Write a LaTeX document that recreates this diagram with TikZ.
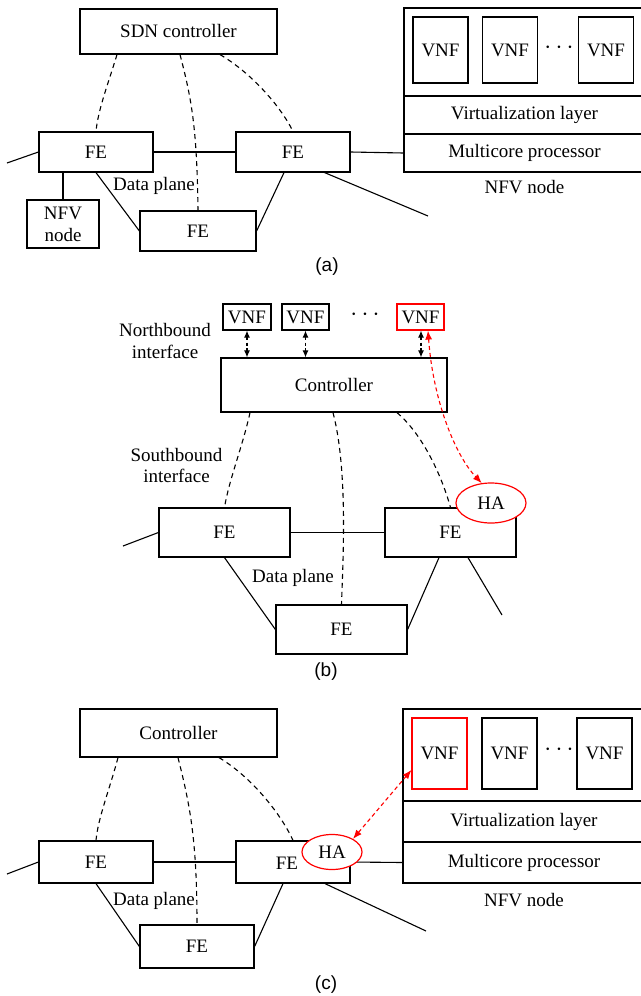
\documentclass[tikz,border=0pt]{standalone}
\usepackage{fontspec}
\setmainfont{Liberation Serif}
\newfontfamily\lblfont{Liberation Sans}
\usetikzlibrary{arrows.meta,shapes.geometric,calc}
\begin{document}
\begin{tikzpicture}[x=1pt,y=-1pt,
  font=\fontsize{19}{22}\selectfont,
  box/.style={draw, line width=1.2pt, inner sep=0pt, rectangle},
  vnfa/.style={box, minimum width=55pt, minimum height=66pt},
  vnfb/.style={box, minimum width=47pt, minimum height=26pt},
  vnfc/.style={box, minimum width=55pt, minimum height=71pt},
  febox/.style={box, minimum width=114pt, minimum height=40pt},
  conn/.style={line width=1.1pt},
  ctl/.style={line width=1.1pt, dash pattern=on 5pt off 4pt},
  varr/.style={line width=1.1pt, dash pattern=on 3pt off 2.5pt, {Latex[length=7pt,width=6pt]}-{Latex[length=7pt,width=6pt]}},
  rarr/.style={red, line width=1.1pt, dash pattern=on 4pt off 3pt, {Latex[length=9pt,width=7pt]}-{Latex[length=9pt,width=7pt]}},
  haell/.style={ellipse, draw=red, fill=white, line width=1.2pt, inner sep=0pt},
  dotstext/.style={font=\fontsize{25}{25}\selectfont},
  captext/.style={font=\lblfont\fontsize{19}{22}\selectfont}]
\useasboundingbox (0,0) rectangle (640,996);

% ================= panel (a) =================
\node[box, minimum width=197pt, minimum height=45pt] (sdnA) at (178.5,31.5) {SDN controller};
\node[box, minimum width=241pt, minimum height=88pt] (topA) at (524.5,52) {};
\node[box, minimum width=241pt, minimum height=38pt] (vlA) at (524.5,115) {Virtualization layer};
\node[box, minimum width=241pt, minimum height=38pt] (mcA) at (524.5,153) {Multicore processor};
\node[vnfa] (v1A) at (440.5,50) {VNF};
\node[vnfa] (v2A) at (510,50) {VNF};
\node[vnfa] (v3A) at (606,50) {VNF};
\node[dotstext] (dotsA) at (559,48) {$\cdots$};
\node (nfvlA) at (524.5,187) {NFV node};
\node[febox] (feLA) at (96,152) {FE};
\node[febox] (feRA) at (293,152) {FE};
\node[box, minimum width=116pt, minimum height=40pt] (feBA) at (198,231) {FE};
\node[box, minimum width=72pt, minimum height=48pt, align=center] (nfvsA) at (63,224) {NFV\\node};
\node (dpA) at (154,186) {Data plane};
\node[captext] (capA) at (327,267) {(a)};

\coordinate (stubLA) at (7,163);
\coordinate (stubRA) at (428,216);
\draw[conn] (stubLA) -- (feLA.west);
\draw[conn] (feLA.east) -- (feRA.west);
\draw[conn] (feRA.east) -- (mcA.west);
\draw[conn] ([xshift=-26pt]feRA.south east) -- (stubRA);
\draw[conn] (feLA.south) -- (feBA.west);
\draw[conn] ([xshift=-9pt]feRA.south) -- (feBA.east);
\draw[conn] (nfvsA.north) -- (nfvsA.north |- feLA.south);
\draw[ctl] ([xshift=-61.5pt]sdnA.south) .. controls (108,84) and (98,110) .. (feLA.north);
\draw[ctl] ([xshift=1.5pt]sdnA.south) .. controls (192,100) and (197,130) .. (feBA.north);
\draw[ctl] ([xshift=41.5pt]sdnA.south) .. controls (250,72) and (280,105) .. (feRA.north);

% ================= panel (b) =================
\node[vnfb, minimum width=48pt] (v1B) at (247,317) {VNF};
\node[vnfb] (v2B) at (305.5,317) {VNF};
\node[vnfb, draw=red] (v3B) at (420.5,317) {VNF};
\node[dotstext] (dotsB) at (365,315) {$\cdots$};
\node[align=center] (nbB) at (165,341) {Northbound\\interface};
\node[box, minimum width=226pt, minimum height=54pt] (ctlB) at (334,385) {Controller};
\node[align=center, font=\fontsize{19}{21}\selectfont] (sbB) at (176.5,465) {Southbound\\interface};
\node[box, minimum width=131pt, minimum height=49pt] (feLB) at (224.5,532.5) {FE};
\node[box, minimum width=131pt, minimum height=49pt] (feRB) at (450.5,532.5) {FE};
\node[box, minimum width=131pt, minimum height=49pt] (feBB) at (341.5,629.5) {FE};
\node (dpB) at (293,578) {Data plane};
\node[captext] (capB) at (326,672) {(b)};

\coordinate (stubLB) at (123,546);
\coordinate (stubRB) at (502,615);
\draw[conn] (stubLB) -- (feLB.west);
\draw[conn] (feLB.east) -- (feRB.west);
\draw[conn] (feLB.south) -- (feBB.west);
\draw[conn] ([xshift=-11.5pt]feRB.south) -- (feBB.east);
\draw[conn] ([xshift=17.5pt]feRB.south) -- (stubRB);
\draw[ctl] ([xshift=-84pt]ctlB.south) .. controls (243,445) and (229,480) .. (feLB.north);
\draw[ctl] ([xshift=-1pt]ctlB.south) .. controls (348,470) and (343,560) .. (feBB.north);
\draw[ctl] ([xshift=63pt]ctlB.south) .. controls (420,432) and (440,470) .. (feRB.north);
\draw[varr] (v1B.south) -- (v1B.south |- ctlB.north);
\draw[varr] (v2B.south) -- (v2B.south |- ctlB.north);
\draw[varr] ([xshift=0.5pt]v3B.south) -- ([xshift=0.5pt]v3B.south |- ctlB.north);
\node[haell, minimum width=70pt, minimum height=40pt] (haB) at (491,503) {HA};
\draw[rarr] ([xshift=7.5pt]v3B.south) .. controls (433,400) and (455,455) .. (haB.115);

% ================= panel (c) =================
\node[box, minimum width=197pt, minimum height=48pt] (ctlC) at (178.5,733) {Controller};
\node[box, minimum width=242pt, minimum height=92pt] (topC) at (524,755) {};
\node[box, minimum width=242pt, minimum height=41pt] (vlC) at (524,821.5) {Virtualization layer};
\node[box, minimum width=242pt, minimum height=41pt] (mcC) at (524,862.5) {Multicore processor};
\node[vnfc, draw=red] (v1C) at (439.5,753.5) {VNF};
\node[vnfc] (v2C) at (509.5,753.5) {VNF};
\node[vnfc] (v3C) at (604.5,753.5) {VNF};
\node[dotstext] (dotsC) at (559,750) {$\cdots$};
\node (nfvlC) at (524,900) {NFV node};
\node[box, minimum width=114pt, minimum height=42pt] (feLC) at (96,862) {FE};
\node[box, minimum width=114pt, minimum height=42pt] (feRC) at (293,862) {};
\node (feRCt) at (287,863) {FE};
\node[box, minimum width=114pt, minimum height=43pt] (feBC) at (197,946.5) {FE};
\node (dpC) at (154,901) {Data plane};
\node[captext] (capC) at (326,985) {(c)};

\coordinate (stubLC) at (7,874);
\coordinate (stubRC) at (426,931);
\draw[conn] (stubLC) -- (feLC.west);
\draw[conn] (feLC.east) -- (feRC.west);
\draw[conn] (feRC.east) -- (mcC.west);
\draw[conn] (feLC.south) -- (feBC.west);
\draw[conn] ([xshift=-10pt]feRC.south) -- (feBC.east);
\draw[conn] ([xshift=32pt]feRC.south) -- (stubRC);
\draw[ctl] ([xshift=-60.5pt]ctlC.south) .. controls (110,788) and (98,818) .. (feLC.north);
\draw[ctl] ([xshift=-0.5pt]ctlC.south) .. controls (190,805) and (197,840) .. (feBC.north);
\draw[ctl] ([xshift=40.5pt]ctlC.south) .. controls (250,776) and (280,812) .. (feRC.north);
\node[haell, minimum width=60pt, minimum height=35pt] (haC) at (332,852) {HA};
\draw[rarr] (haC.32) -- ($(v1C.west)+(0,16.5)$);
\end{tikzpicture}
\end{document}
